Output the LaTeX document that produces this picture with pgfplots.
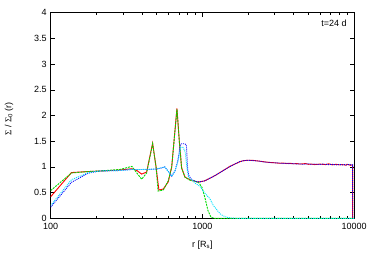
\documentclass[border=0pt]{standalone}
\usepackage{pgfplots}
\pgfplotsset{compat=1.18}
\usepackage{fontspec}
\setmainfont{Liberation Sans}
\newfontfamily\symf{Liberation Serif}
\definecolor{gpred}{RGB}{255,0,0}
\definecolor{gpgreen}{RGB}{0,220,0}
\definecolor{gpblue}{RGB}{0,0,255}
\definecolor{gpcyan}{RGB}{0,225,255}
\begin{document}
\begin{tikzpicture}
\path[use as bounding box] (-50.7pt,-43.7pt) rectangle (323.3pt,218.3pt);
\begin{axis}[
  at={(0pt,0pt)}, anchor=south west,
  scale only axis, width=303.3pt, height=205.6pt,
  xmode=log, xmin=100, xmax=10000, ymin=0, ymax=4,
  xtick={100,1000,10000}, xticklabels={100,1000,10000},
  ytick={0,0.5,1,1.5,2,2.5,3,3.5,4},
  tick align=inside, major tick length=4pt, minor tick length=2pt,
  tick style={black, line width=0.5pt},
  axis line style={line width=0.7pt},
  /pgf/number format/assume math mode=true,
  ticklabel style={font=\fontsize{9}{10}\selectfont},
  xticklabel style={yshift=-1.5pt},
  yticklabel style={xshift=-0.5pt},
  label style={font=\fontsize{9}{10}\selectfont},
  xlabel={r [R\textsubscript{s}]},
  ylabel={{\symf Σ} / {\symf Σ}\textsubscript{0} (r)},
  xlabel style={at={(axis description cs:0.5,-0.13)}, anchor=center},
  ylabel style={at={(axis description cs:-0.1375,0.483)}, anchor=center},
  every axis plot/.append style={line width=0.9pt},
]
\addplot[gpred, solid] coordinates {
(100,0.42)(137,0.89)(177,0.91)(211,0.92)(250,0.93)(286,0.94)(343,0.965)(370,0.93)(398,0.86)(429,0.90)
(470,1.46)(495,1.0)(517,0.55)(553,0.57)(596,0.71)(628,1.0)(653,1.56)(680,2.14)(705,1.5)(730,0.98)
(768,0.80)(829,0.75)(921,0.71)(964,0.71)(1040,0.73)(1122,0.78)(1210,0.83)(1306,0.89)(1410,0.95)
(1521,1.01)(1650,1.06)(1760,1.10)(1862,1.12)(2000,1.13)(2200,1.125)(2400,1.11)(2550,1.10)(2700,1.09)
(2850,1.085)(3000,1.08)(3250,1.07)(3400,1.075)(3600,1.065)(3800,1.07)(4000,1.06)(4200,1.065)(4400,1.055)
(4600,1.06)(4800,1.065)(5000,1.05)(5200,1.055)(5500,1.045)(5960,1.055)(6200,1.05)(6500,1.045)(6800,1.06)
(7200,1.04)(7600,1.05)(8070,1.04)(8400,1.045)(8800,1.035)(9000,1.05)(9300,1.04)(9500,1.03)(9680,1.04)
(9790,1.03)(9800,0)
};
\addplot[gpgreen, dash pattern=on 2pt off 1pt] coordinates {
(100,0.54)(137,0.88)(177,0.91)(211,0.92)(286,0.95)(343,1.01)(370,0.88)(398,0.76)(429,0.88)(470,1.45)
(495,1.0)(510,0.53)(553,0.55)(596,0.73)(628,1.0)(653,1.55)(680,2.12)(705,1.5)(730,0.98)(768,0.80)
(829,0.74)(894,0.72)(950,0.69)(995,0.60)(1040,0.40)(1089,0.15)(1140,0.02)(1200,0)(10000,0)
};
\addplot[gpblue, dash pattern=on 1pt off 1pt] coordinates {
(100,0.22)(137,0.70)(177,0.88)(211,0.92)(286,0.93)(343,0.95)(400,0.95)(450,0.95)(500,0.96)(540,0.98)
(565,1.0)(600,0.9)(628,0.82)(660,0.92)(690,1.13)(715,1.42)(730,1.45)(768,1.45)(785,1.42)(800,0.95)
(815,0.83)(850,0.75)(921,0.71)(964,0.71)(1040,0.73)(1122,0.78)(1210,0.83)(1306,0.89)(1410,0.95)
(1521,1.01)(1650,1.06)(1760,1.10)(1862,1.12)(2000,1.13)(2200,1.12)(2400,1.11)(2550,1.095)(2700,1.09)
(2850,1.08)(3000,1.08)(3250,1.075)(3400,1.065)(3600,1.07)(3800,1.06)(4000,1.065)(4200,1.055)(4400,1.06)
(4600,1.05)(4800,1.055)(5000,1.06)(5200,1.05)(5500,1.055)(5960,1.045)(6200,1.055)(6500,1.05)(6800,1.045)
(7200,1.05)(7600,1.04)(8070,1.045)(8400,1.04)(8800,1.045)(9000,1.035)(9300,1.05)(9500,1.04)(9680,1.035)
(9790,1.04)(9810,0)
};
\addplot[gpcyan, dash pattern=on 1pt off 1pt] coordinates {
(100,0.25)(137,0.75)(177,0.89)(211,0.92)(286,0.93)(343,0.95)(400,0.95)(500,0.96)(565,1.0)(600,0.9)
(628,0.82)(660,0.92)(690,1.1)(720,1.38)(745,1.38)(770,1.3)(790,1.0)(810,0.8)(850,0.75)(900,0.68)
(964,0.62)(1020,0.52)(1067,0.45)(1122,0.38)(1180,0.25)(1243,0.17)(1306,0.09)(1367,0.05)(1450,0.02)
(1550,0.005)(1700,0)(10000,0)
};
\node[anchor=north east, font=\fontsize{9}{10}\selectfont, inner sep=0pt] at (rel axis cs:0.976,0.966) {t=24 d};
\end{axis}
\end{tikzpicture}
\end{document}
